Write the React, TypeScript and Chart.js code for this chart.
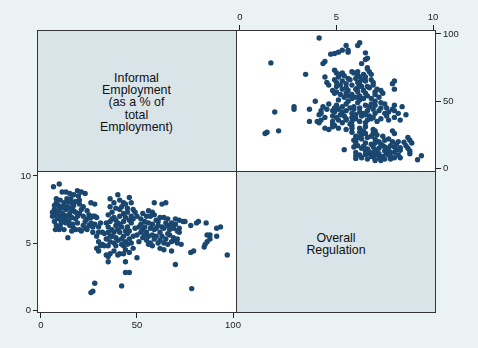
import React, { useEffect, useRef } from "react";
import { Chart, registerables } from "chart.js";

Chart.register(...registerables);

// Informal employment (% of total employment) for each observation
const informalEmployment = [
  6.5, 9.5, 11, 13, 15, 17, 19, 21, 23, 19.5,
  8, 10, 12, 14, 16, 20, 22, 9, 11, 13,
  15, 17, 7, 6, 8, 10, 12, 14, 16, 18,
  9, 11, 13, 7, 8, 10, 12, 7.5, 15, 17,
  19, 14, 20, 22, 24, 25, 27, 26, 28, 29,
  22, 24, 21, 26, 28, 30, 27, 29, 30, 31,
  29, 30, 33, 34, 36, 35, 35,
  6, 7, 8, 9, 10, 11, 12, 13, 14, 15,
  16, 17, 18, 19, 8.5, 10.5, 12.5, 14.5, 16.5, 9.5,
  11.5, 13.5, 15.5, 18, 20, 21, 23, 24, 25, 26,
  27, 28, 23, 20, 18, 16, 30, 31, 32,
  36, 38, 40, 41, 43, 44, 46, 47, 48, 36,
  35, 37, 39, 41, 43, 45, 47, 49, 35, 37,
  39, 41, 43, 45, 47, 49, 33, 35, 37, 39,
  41, 43, 45, 36, 38, 40, 42, 44, 46, 35,
  41, 44, 46, 48, 44, 44, 46, 42, 26, 27,
  28, 50,
  34, 36, 38, 40, 42, 44, 46, 48, 38, 40,
  42, 44, 46, 48, 39, 43, 45, 47, 37, 39,
  42, 45, 41, 34, 36, 32, 38, 40, 43,
  50, 52, 54, 56, 58, 59, 63, 65, 60, 62,
  64, 66, 68, 70, 72, 75, 51, 53, 55, 57,
  59, 61, 63, 65, 67, 69, 71, 53, 55, 57,
  59, 61, 63, 65, 67, 69, 71, 73, 56, 58,
  62, 64, 68, 70, 71, 72,
  52, 54, 56, 58, 60, 62, 64, 66, 52, 54,
  56, 58, 60, 62, 57, 59, 61, 55, 50, 51,
  53, 64, 66, 68, 70, 66, 68, 70, 72, 74,
  78, 81, 86, 78, 79.5, 85, 85.5, 86.5, 88, 86.5,
  91.5, 91.5, 93.5, 97, 78.5, 82, 88,
];

// Overall regulation index for the same observations
const overallRegulation = [
  9.2, 9.4, 8.8, 8.8, 8.7, 8.6, 8.9, 8.8, 8.7, 8.5,
  8.3, 8.2, 8.0, 8.1, 8.0, 7.9, 7.7, 7.8, 7.6, 7.5,
  7.6, 7.4, 7.5, 7.3, 7.2, 7.0, 7.1, 7.0, 6.9, 6.8,
  6.8, 6.6, 6.5, 6.6, 6.3, 6.2, 6.0, 6.0, 6.3, 6.1,
  6.5, 5.4, 7.2, 7.0, 6.8, 7.1, 7.0, 8.0, 7.9, 6.9,
  6.3, 6.0, 5.9, 6.5, 6.4, 6.2, 5.8, 5.5, 5.1, 4.8,
  4.6, 4.4, 4.8, 4.1, 4.2, 3.6, 4.0,
  7.0, 7.8, 8.0, 7.4, 7.7, 7.2, 7.8, 7.0, 7.7, 7.2,
  7.5, 7.8, 7.3, 7.0, 6.9, 6.5, 6.7, 6.6, 6.4, 6.0,
  6.9, 8.3, 8.3, 8.1, 8.2, 7.5, 6.6, 7.4, 6.3, 6.9,
  6.2, 7.0, 6.1, 6.0, 6.0, 5.9, 5.8, 6.5, 5.8,
  8.3, 8.0, 8.6, 7.5, 8.0, 7.9, 8.4, 8.0, 7.5, 7.7,
  7.1, 6.8, 6.7, 7.0, 7.2, 7.3, 7.0, 7.3, 6.2, 6.0,
  6.3, 6.4, 6.6, 6.2, 6.5, 6.1, 5.7, 5.8, 5.5, 5.4,
  5.8, 5.5, 5.7, 5.1, 5.0, 5.2, 4.9, 5.1, 5.3, 4.8,
  4.2, 4.5, 4.3, 4.6, 3.6, 2.8, 2.8, 1.8, 1.3, 1.4,
  2.0, 3.9,
  6.5, 6.6, 6.9, 6.5, 6.2, 6.9, 6.7, 6.8, 5.8, 6.0,
  5.3, 5.9, 5.9, 5.5, 4.8, 4.8, 4.9, 5.0, 7.3, 7.6,
  7.7, 7.6, 8.2, 5.3, 5.5, 4.9, 4.4, 4.1, 4.2,
  7.0, 6.8, 6.6, 7.4, 7.3, 8.0, 7.9, 8.0, 6.7, 6.9,
  6.9, 6.8, 6.5, 6.8, 6.7, 6.6, 6.2, 6.0, 5.8, 6.1,
  6.0, 6.3, 6.2, 6.5, 6.0, 6.1, 5.9, 5.4, 5.2, 5.0,
  5.3, 5.0, 5.5, 5.3, 5.6, 5.4, 5.0, 4.9, 4.9, 4.8,
  4.6, 4.5, 4.4, 3.4, 5.3, 5.8,
  6.4, 6.2, 6.5, 6.4, 6.1, 5.8, 6.1, 5.7, 5.8, 5.6,
  5.5, 5.6, 5.5, 5.2, 7.0, 7.1, 6.6, 7.0, 5.6, 5.1,
  7.2, 5.0, 4.9, 5.1, 5.2, 6.3, 6.2, 6.4, 6.1, 6.6,
  6.3, 6.5, 6.5, 4.3, 4.4, 4.7, 4.9, 5.1, 5.6, 5.6,
  5.5, 6.1, 6.2, 4.1, 1.6, 6.6, 5.3,
];

const informalTicks = [0, 50, 100];
const regulationTicks = [0, 5, 10];

const informalLabel = ["Informal", "Employment", "(as a % of", "total", "Employment)"];
const regulationLabel = ["Overall", "Regulation"];

const PAGE_BG = "#eaf2f3";
const DIAG_BG = "#d9e4e9";
const MARKER = "#1a476f";
const INK = "#222222";
const FONT = '"Liberation Sans", Arial, sans-serif';

type AxisSpec = {
  position: "top" | "bottom" | "left" | "right";
  min: number;
  max: number;
  ticks: number[];
  size: number;
  tickLength: number;
  padding: number;
};

function axis(spec: AxisSpec) {
  const horizontal = spec.position === "top" || spec.position === "bottom";
  return {
    type: "linear" as const,
    position: spec.position,
    min: spec.min,
    max: spec.max,
    afterBuildTicks: (scale: any) => {
      scale.ticks = spec.ticks.map((v) => ({ value: v }));
    },
    afterFit: (scale: any) => {
      if (horizontal) scale.height = spec.size;
      else scale.width = spec.size;
    },
    border: { display: false },
    grid: {
      drawOnChartArea: false,
      drawTicks: true,
      tickLength: spec.tickLength,
      color: INK,
      tickColor: INK,
      lineWidth: 1,
    },
    ticks: {
      color: INK,
      padding: spec.padding,
      maxRotation: 0,
      autoSkip: false,
      font: { family: FONT, size: 9.5 },
    },
  };
}

function scatter(
  canvas: HTMLCanvasElement,
  xs: number[],
  ys: number[],
  xAxis: AxisSpec,
  yAxis: AxisSpec,
  padding: { left: number; right: number; top: number; bottom: number }
) {
  return new Chart(canvas, {
    type: "scatter",
    data: {
      datasets: [
        {
          data: xs.map((x, i) => ({ x, y: ys[i] })),
          backgroundColor: MARKER,
          borderColor: MARKER,
          borderWidth: 0,
          pointRadius: 2.7,
          pointHoverRadius: 2.7,
        },
      ],
    },
    options: {
      responsive: false,
      animation: false,
      devicePixelRatio: 1,
      layout: { padding },
      plugins: { legend: { display: false }, tooltip: { enabled: false } },
      events: [],
      scales: { x: axis(xAxis), y: axis(yAxis) },
    },
  });
}

export default function App() {
  const topRight = useRef<HTMLCanvasElement>(null);
  const bottomLeft = useRef<HTMLCanvasElement>(null);

  useEffect(() => {
    // upper-right cell: regulation across, informal employment up
    const tr = scatter(
      topRight.current!,
      overallRegulation,
      informalEmployment,
      { position: "top", min: -0.207, max: 10.155, ticks: regulationTicks, size: 30, tickLength: 5, padding: 2 },
      { position: "right", min: -1.86, max: 102.97, ticks: informalTicks, size: 42, tickLength: 5, padding: 2 },
      { left: 16, right: 0, top: 0, bottom: 9 }
    );
    // lower-left cell: informal employment across, regulation up
    const bl = scatter(
      bottomLeft.current!,
      informalEmployment,
      overallRegulation,
      { position: "bottom", min: -2.08, max: 101.56, ticks: informalTicks, size: 35, tickLength: 5, padding: 2 },
      { position: "left", min: -0.22, max: 10.37, ticks: regulationTicks, size: 37, tickLength: 4, padding: 2 },
      { left: 0, right: 14, top: 11, bottom: 0 }
    );
    return () => {
      tr.destroy();
      bl.destroy();
    };
  }, []);

  const diagText: React.CSSProperties = {
    position: "absolute",
    display: "flex",
    alignItems: "center",
    justifyContent: "center",
    textAlign: "center",
    background: DIAG_BG,
    color: "#111",
    fontFamily: FONT,
    fontSize: 12.4,
    lineHeight: "12.3px",
    paddingTop: 4,
    boxSizing: "border-box",
  };

  const line = (style: React.CSSProperties): React.CSSProperties => ({
    position: "absolute",
    background: "#333",
    ...style,
  });

  return (
    <div
      style={{
        position: "fixed",
        left: 0,
        top: 0,
        width: 478,
        height: 348,
        background: PAGE_BG,
        overflow: "hidden",
      }}
    >
      <div style={{ ...diagText, left: 37, top: 30, width: 199, height: 141 }}>
        <div>
          {informalLabel.map((t) => (
            <div key={t}>{t}</div>
          ))}
        </div>
      </div>
      <div style={{ ...diagText, left: 236, top: 171, width: 200, height: 142 }}>
        <div>
          {regulationLabel.map((t) => (
            <div key={t}>{t}</div>
          ))}
        </div>
      </div>
      <div style={{ position: "absolute", left: 236, top: 30, width: 200, height: 141, background: "#fff" }} />
      <div style={{ position: "absolute", left: 37, top: 171, width: 199, height: 142, background: "#fff" }} />
      <canvas
        ref={topRight}
        width={258}
        height={180}
        style={{ position: "absolute", left: 220, top: 0 }}
      />
      <canvas
        ref={bottomLeft}
        width={250}
        height={188}
        style={{ position: "absolute", left: 0, top: 160 }}
      />
      <div style={line({ left: 37, top: 30, width: 399, height: 1 })} />
      <div style={line({ left: 37, top: 312, width: 399, height: 1 })} />
      <div style={line({ left: 37, top: 30, width: 1, height: 283 })} />
      <div style={line({ left: 435, top: 30, width: 1, height: 283 })} />
      <div style={line({ left: 236, top: 30, width: 1, height: 283 })} />
      <div style={line({ left: 37, top: 171, width: 399, height: 1 })} />
    </div>
  );
}
